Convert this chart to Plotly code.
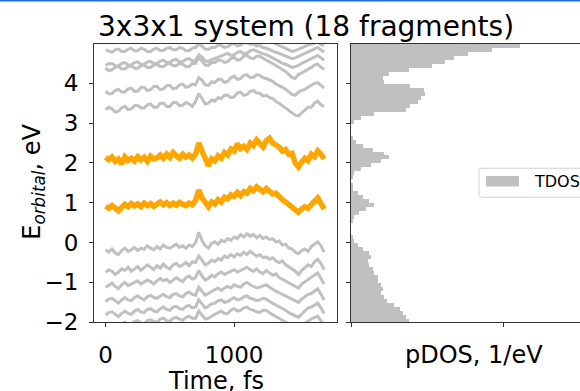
import plotly.graph_objects as go

W, H = 580, 391

# ---------------- data ----------------
time_fs = list(range(0, 1701, 25))

orange_upper = [2.14, 2.08, 2.15, 2.04, 2.10, 1.97, 2.15, 2.06, 2.12, 2.05,
                2.16, 2.08, 2.14, 2.04, 2.17, 2.10, 2.13, 2.20, 2.12, 2.22,
                2.14, 2.26, 2.18, 2.12, 2.22, 2.15, 2.20, 2.12, 2.22, 2.50,
                2.30, 2.08, 1.93, 2.10, 2.05, 2.18, 2.12, 2.26, 2.20, 2.35,
                2.30, 2.48, 2.36, 2.42, 2.34, 2.50, 2.44, 2.58, 2.48, 2.40,
                2.56, 2.62, 2.50, 2.46, 2.40, 2.30, 2.34, 2.22, 2.24, 2.00,
                1.90, 2.02, 2.12, 2.06, 2.22, 2.16, 2.30, 2.22, 2.10]
orange_lower = [0.91, 0.86, 0.93, 0.84, 0.80, 0.88, 0.96, 0.90, 0.98, 0.92,
                0.97, 0.90, 0.99, 0.93, 0.98, 0.91, 0.96, 1.02, 0.95, 1.00,
                0.93, 0.99, 0.94, 1.01, 0.96, 0.93, 0.99, 0.95, 1.06, 1.32,
                1.12, 0.98, 0.90, 1.02, 0.97, 1.08, 1.02, 1.14, 1.10, 1.20,
                1.16, 1.26, 1.18, 1.28, 1.24, 1.36, 1.30, 1.40, 1.32, 1.28,
                1.36, 1.30, 1.22, 1.24, 1.14, 1.08, 1.02, 0.96, 0.92, 0.84,
                0.76, 0.84, 0.90, 0.86, 0.98, 1.04, 1.12, 1.00, 0.84]

grey_1 = [-0.18, -0.24, -0.16, -0.26, -0.30, -0.20, -0.14, -0.22, -0.18, -0.12,
          -0.20, -0.14, -0.17, -0.08, -0.14, -0.18, -0.10, -0.16, -0.06, -0.12,
          -0.14, -0.08, -0.04, -0.12, -0.08, -0.14, -0.06, -0.10, 0.00, 0.26,
          0.05, -0.08, -0.14, -0.02, 0.02, -0.04, 0.06, 0.02, 0.10, 0.06,
          0.14, 0.10, 0.20, 0.14, 0.22, 0.16, 0.20, 0.12, 0.18, 0.10,
          0.14, 0.08, 0.10, 0.02, 0.04, -0.06, -0.04, -0.14, -0.16, -0.24,
          -0.28, -0.20, -0.16, -0.22, -0.10, -0.04, 0.02, -0.08, -0.24]
grey_2 = [-0.75, -0.68, -0.72, -0.80, -0.74, -0.66, -0.70, -0.62, -0.72, -0.66,
          -0.60, -0.70, -0.64, -0.56, -0.62, -0.68, -0.58, -0.64, -0.54, -0.62,
          -0.66, -0.56, -0.52, -0.60, -0.56, -0.50, -0.58, -0.48, -0.50, -0.34,
          -0.44, -0.56, -0.52, -0.44, -0.48, -0.40, -0.44, -0.34, -0.38, -0.30,
          -0.36, -0.28, -0.32, -0.24, -0.30, -0.22, -0.28, -0.34, -0.30, -0.38,
          -0.36, -0.42, -0.38, -0.46, -0.50, -0.46, -0.56, -0.60, -0.66, -0.72,
          -0.80, -0.70, -0.62, -0.56, -0.60, -0.48, -0.42, -0.52, -0.68]
grey_3 = [-1.12, -1.06, -1.02, -1.10, -1.16, -1.06, -1.00, -1.08, -1.04, -0.98,
          -0.96, -1.04, -1.00, -0.94, -0.98, -1.04, -0.96, -0.90, -0.96, -0.92,
          -1.00, -0.94, -0.88, -0.94, -0.98, -0.88, -0.84, -0.92, -0.88, -0.70,
          -0.84, -0.94, -0.90, -0.82, -0.86, -0.78, -0.74, -0.80, -0.76, -0.70,
          -0.68, -0.74, -0.70, -0.64, -0.62, -0.68, -0.72, -0.66, -0.74, -0.78,
          -0.70, -0.76, -0.82, -0.78, -0.88, -0.92, -0.96, -1.00, -1.06, -1.10,
          -1.14, -1.04, -0.98, -0.92, -0.88, -0.82, -0.76, -0.90, -1.04]
grey_4 = [-1.48, -1.42, -1.40, -1.46, -1.52, -1.44, -1.38, -1.44, -1.46, -1.38,
          -1.34, -1.40, -1.44, -1.36, -1.32, -1.38, -1.40, -1.34, -1.30, -1.36,
          -1.38, -1.30, -1.28, -1.34, -1.36, -1.28, -1.24, -1.30, -1.32, -1.12,
          -1.22, -1.32, -1.28, -1.22, -1.18, -1.14, -1.20, -1.14, -1.10, -1.14,
          -1.06, -1.10, -1.12, -1.04, -1.00, -1.06, -1.10, -1.14, -1.12, -1.08,
          -1.06, -1.12, -1.18, -1.22, -1.26, -1.30, -1.32, -1.38, -1.42, -1.46,
          -1.50, -1.42, -1.36, -1.30, -1.28, -1.22, -1.16, -1.30, -1.44]
grey_5 = [-1.82, -1.76, -1.74, -1.80, -1.86, -1.78, -1.72, -1.78, -1.80, -1.72,
          -1.68, -1.74, -1.76, -1.68, -1.66, -1.72, -1.74, -1.66, -1.62, -1.68,
          -1.70, -1.62, -1.60, -1.66, -1.68, -1.60, -1.58, -1.64, -1.62, -1.44,
          -1.54, -1.64, -1.60, -1.54, -1.52, -1.46, -1.44, -1.50, -1.48, -1.42,
          -1.38, -1.44, -1.42, -1.36, -1.34, -1.40, -1.42, -1.46, -1.44, -1.40,
          -1.42, -1.48, -1.52, -1.56, -1.60, -1.66, -1.70, -1.76, -1.80, -1.84,
          -1.88, -1.80, -1.72, -1.64, -1.62, -1.56, -1.52, -1.64, -1.78]
grey_6 = [-2.10, -2.04, -2.02, -2.08, -2.12, -2.04, -2.00, -2.06, -2.06, -1.98,
          -1.96, -2.02, -2.04, -1.96, -1.94, -1.98, -2.00, -1.92, -1.90, -1.96,
          -1.98, -1.90, -1.88, -1.92, -1.95, -1.88, -1.85, -1.90, -1.90, -1.72,
          -1.82, -1.92, -1.90, -1.84, -1.80, -1.76, -1.72, -1.78, -1.78, -1.70,
          -1.66, -1.72, -1.70, -1.64, -1.62, -1.68, -1.70, -1.74, -1.75, -1.70,
          -1.70, -1.76, -1.82, -1.86, -1.90, -1.96, -2.00, -2.04, -2.08, -2.12,
          -2.15, -2.08, -2.02, -1.96, -1.92, -1.88, -1.85, -1.96, -2.08]
grey_7 = [3.34, 3.40, 3.36, 3.28, 3.30, 3.38, 3.42, 3.34, 3.36, 3.44,
          3.45, 3.38, 3.38, 3.46, 3.48, 3.40, 3.40, 3.50, 3.50, 3.42,
          3.42, 3.52, 3.52, 3.44, 3.45, 3.52, 3.48, 3.42, 3.55, 3.74,
          3.62, 3.48, 3.50, 3.58, 3.55, 3.64, 3.62, 3.70, 3.70, 3.64,
          3.66, 3.76, 3.78, 3.70, 3.72, 3.80, 3.82, 3.76, 3.75, 3.68,
          3.70, 3.64, 3.62, 3.54, 3.50, 3.44, 3.38, 3.30, 3.25, 3.20,
          3.18, 3.26, 3.32, 3.40, 3.40, 3.50, 3.55, 3.46, 3.42]
grey_8 = [3.80, 3.74, 3.74, 3.82, 3.85, 3.78, 3.78, 3.86, 3.88, 3.80,
          3.80, 3.90, 3.90, 3.82, 3.84, 3.92, 3.92, 3.84, 3.86, 3.94,
          3.95, 3.86, 3.88, 3.96, 3.98, 3.90, 3.92, 3.98, 3.96, 4.14,
          4.08, 3.96, 3.95, 4.04, 4.02, 4.10, 4.10, 4.02, 4.05, 4.14,
          4.18, 4.10, 4.12, 4.20, 4.22, 4.14, 4.15, 4.22, 4.20, 4.14,
          4.12, 4.08, 4.05, 3.98, 3.95, 3.90, 3.85, 3.78, 3.72, 3.70,
          3.78, 3.82, 3.85, 3.90, 3.95, 4.00, 4.02, 3.94, 3.88]
grey_9 = [4.38, 4.32, 4.34, 4.40, 4.42, 4.36, 4.36, 4.42, 4.44, 4.38,
          4.38, 4.44, 4.46, 4.40, 4.40, 4.46, 4.48, 4.42, 4.42, 4.48,
          4.50, 4.44, 4.44, 4.50, 4.48, 4.42, 4.42, 4.50, 4.50, 4.64,
          4.56, 4.46, 4.45, 4.52, 4.52, 4.58, 4.58, 4.52, 4.55, 4.62,
          4.65, 4.58, 4.60, 4.68, 4.70, 4.64, 4.62, 4.68, 4.68, 4.62,
          4.58, 4.54, 4.50, 4.44, 4.40, 4.34, 4.30, 4.22, 4.15, 4.12,
          4.22, 4.26, 4.30, 4.36, 4.40, 4.46, 4.48, 4.40, 4.35]
grey_10 = [4.45, 4.50, 4.50, 4.44, 4.43, 4.50, 4.52, 4.46, 4.46, 4.52,
           4.54, 4.48, 4.48, 4.54, 4.55, 4.50, 4.50, 4.56, 4.58, 4.52,
           4.52, 4.58, 4.60, 4.54, 4.55, 4.60, 4.62, 4.56, 4.58, 4.72,
           4.66, 4.56, 4.55, 4.60, 4.62, 4.66, 4.68, 4.72, 4.75, 4.70,
           4.72, 4.78, 4.80, 4.74, 4.76, 4.82, 4.84, 4.80, 4.78, 4.74,
           4.72, 4.68, 4.65, 4.60, 4.55, 4.50, 4.48, 4.44, 4.40, 4.42,
           4.45, 4.50, 4.55, 4.58, 4.62, 4.66, 4.70, 4.64, 4.58]
grey_11 = [4.84, 4.80, 4.78, 4.84, 4.86, 4.80, 4.80, 4.86, 4.88, 4.82,
           4.82, 4.88, 4.86, 4.80, 4.80, 4.86, 4.88, 4.82, 4.83, 4.88,
           4.90, 4.84, 4.84, 4.90, 4.88, 4.82, 4.82, 4.88, 4.90, 5.00,
           4.94, 4.86, 4.85, 4.90, 4.90, 4.96, 4.95, 4.90, 4.92, 4.98,
           5.00, 4.94, 4.96, 5.02, 5.02, 4.98, 4.98, 4.94, 4.95, 4.90,
           4.88, 4.84, 4.82, 4.78, 4.75, 4.72, 4.70, 4.66, 4.62, 4.64,
           4.68, 4.72, 4.75, 4.80, 4.82, 4.86, 4.90, 4.84, 4.78]
grey_12 = [5.08, 5.04, 5.02, 5.08, 5.10, 5.05, 5.04, 5.10, 5.12, 5.06,
           5.06, 5.12, 5.12, 5.06, 5.05, 5.12, 5.14, 5.08, 5.08, 5.14,
           5.15, 5.10, 5.08, 5.14, 5.14, 5.10, 5.10, 5.14, 5.16, 5.26,
           5.18, 5.10, 5.10, 5.16, 5.18, 5.22, 5.22, 5.18, 5.18, 5.24,
           5.26, 5.22, 5.20, 5.26, 5.28, 5.24, 5.22, 5.20, 5.18, 5.14,
           5.10, 5.06, 5.02, 4.98, 4.95, 4.92, 4.88, 4.84, 4.80, 4.82,
           4.86, 4.90, 4.92, 4.96, 4.98, 5.02, 5.04, 4.98, 4.95]

grey_lines = [grey_1, grey_2, grey_3, grey_4, grey_5, grey_6,
              grey_7, grey_8, grey_9, grey_10, grey_11, grey_12]
orange_lines = [orange_upper, orange_lower]

# TDOS histogram: bin centres (eV) and density (1/eV)
tdos_energy = [round(-1.95 + 0.1 * k, 2) for k in range(70)]
tdos_value = [0.38, 0.36, 0.34, 0.32, 0.28, 0.24, 0.22, 0.20, 0.21, 0.20,
              0.18, 0.18, 0.15, 0.145, 0.12, 0.11, 0.13, 0.12, 0.08, 0.046,
              0.02, 0.007, 0.0, 0.0, 0.0, 0.007, 0.02, 0.053, 0.10, 0.15,
              0.12, 0.08, 0.046, 0.013, 0.007, 0.0, 0.007, 0.02, 0.066, 0.13,
              0.20, 0.25, 0.22, 0.145, 0.08, 0.033, 0.007, 0.0, 0.0, 0.0,
              0.02, 0.066, 0.15, 0.36, 0.39, 0.44, 0.46, 0.49, 0.48, 0.39,
              0.22, 0.21, 0.25, 0.38, 0.53, 0.62, 0.68, 0.77, 0.93, 1.11]

y_ticks = [-2, -1, 0, 1, 2, 3, 4]
y_ticktext = ["\u22122", "\u22121", "0", "1", "2", "3", "4"]
x_ticks = [0, 1000]

# ---------------- layout helpers ----------------
def px(x):
    return x / W

def py(y):
    return 1 - y / H

FONT = "DejaVu Sans"
GREY = "#c0c0c0"
ORANGE = "#ffa500"
AX = "#333333"

fig = go.Figure()

for s in grey_lines:
    fig.add_trace(go.Scatter(x=time_fs, y=s, mode="lines",
                             line=dict(color=GREY, width=3),
                             showlegend=False, hoverinfo="skip",
                             xaxis="x", yaxis="y"))
for s in orange_lines:
    fig.add_trace(go.Scatter(x=time_fs, y=s, mode="lines",
                             line=dict(color=ORANGE, width=5.5),
                             showlegend=False, hoverinfo="skip",
                             xaxis="x", yaxis="y"))

fig.add_trace(go.Bar(x=tdos_value, y=tdos_energy, orientation="h", width=0.1,
                     marker=dict(color=GREY, line=dict(width=0)),
                     name="TDOS", showlegend=False,
                     xaxis="x2", yaxis="y2"))

ydom = [py(333.3), py(45)]
axis_common = dict(showgrid=False, zeroline=False, ticks="outside", ticklen=4,
                   tickwidth=1, tickcolor=AX, showline=True, linecolor=AX,
                   linewidth=1, tickfont=dict(family=FONT, size=23, color="black"))

fig.update_layout(
    width=W, height=H,
    margin=dict(l=0, r=0, t=0, b=0),
    paper_bgcolor="white", plot_bgcolor="white",
    bargap=0,
    xaxis=dict(domain=[px(94), px(337)], range=[-90, 1800], tickvals=x_ticks,
               mirror=True, anchor="y", ticklabelstandoff=8, **axis_common),
    yaxis=dict(domain=ydom, range=[-2, 5], tickvals=y_ticks, ticktext=y_ticktext,
               mirror=True, anchor="x", ticklabelstandoff=6, **axis_common),
    xaxis2=dict(domain=[px(351), 1.0], range=[0, (W - 351) / 152.0],
                tickvals=[0, 1], showticklabels=False, mirror=True, anchor="y2",
                **axis_common),
    yaxis2=dict(domain=ydom, range=[-2, 5], tickvals=y_ticks,
                showticklabels=False, mirror=False, anchor="x2", **axis_common),
    showlegend=False,
)

annotations = [
    dict(text="3x3x1 system (18 fragments)", x=px(306), y=py(27),
         xanchor="center", yanchor="middle",
         font=dict(family=FONT, size=28, color="black")),
    dict(text="Time, fs", x=px(216), y=py(378), xanchor="center", yanchor="top",
         font=dict(family=FONT, size=24, color="black")),
    dict(text="pDOS, 1/eV", x=px(474), y=py(351), xanchor="center", yanchor="top",
         font=dict(family=FONT, size=24, color="black")),
    dict(text="E<sub><i>orbital</i></sub>, eV", x=px(34), y=py(188),
         xanchor="center", yanchor="middle", textangle=-90,
         font=dict(family=FONT, size=24, color="black")),
    dict(text="TDOS", x=px(532), y=py(188), xanchor="left", yanchor="middle",
         font=dict(family=FONT, size=16, color="black")),
]
for a in annotations:
    a.update(xref="paper", yref="paper", showarrow=False)
fig.update_layout(annotations=annotations)

# legend frame (rounded) and patch, plus top blue strip
r = 3
x0, x1, y0, y1 = 479, 600, 174, 204
path = (f"M {px(x0 + r)},{py(y0)} L {px(x1)},{py(y0)} L {px(x1)},{py(y1)} "
        f"L {px(x0 + r)},{py(y1)} Q {px(x0)},{py(y1)} {px(x0)},{py(y1 - r)} "
        f"L {px(x0)},{py(y0 + r)} Q {px(x0)},{py(y0)} {px(x0 + r)},{py(y0)} Z")
shapes = [
    dict(type="path", path=path, xref="paper", yref="paper",
         line=dict(color="#d0d0d0", width=1), fillcolor="rgba(255,255,255,0.85)"),
    dict(type="rect", xref="paper", yref="paper", x0=px(486), x1=px(519),
         y0=py(182), y1=py(193), line=dict(width=0), fillcolor=GREY),
    dict(type="rect", xref="paper", yref="paper", x0=0, x1=1,
         y0=py(1.5), y1=1, line=dict(width=0), fillcolor="#1f6fd6"),
]
fig.update_layout(shapes=shapes)

fig.write_html("out.html")
